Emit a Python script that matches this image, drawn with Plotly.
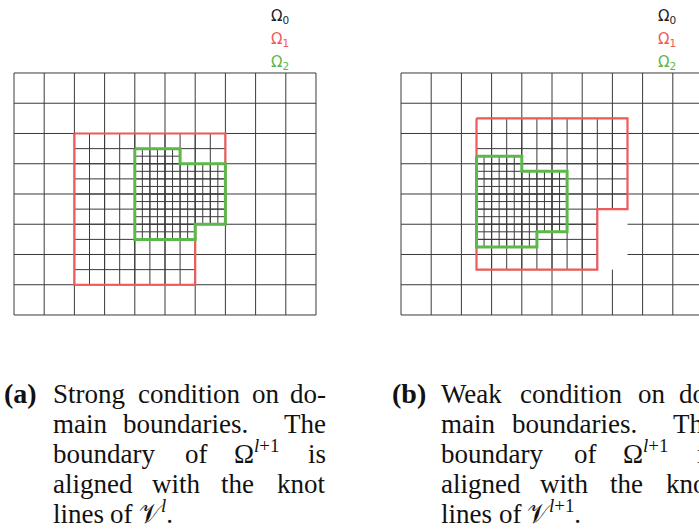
import plotly.graph_objects as go

# Coarse knot grid (cells of level 0)
NX, NY = 10, 8
LEVEL_STEP = [1.0, 0.5, 0.25]

# Panel (a): strong condition, outlines in coarse-cell units (y up)
OMEGA1_A = [(2, 6), (7, 6), (7, 3), (6, 3), (6, 1), (2, 1)]
OMEGA2_A = [(4, 5.5), (5.5, 5.5), (5.5, 5), (7, 5), (7, 3), (6, 3), (6, 2.5), (4, 2.5)]

# Panel (b): weak condition
OMEGA1_B = [(2.5, 6.5), (7.5, 6.5), (7.5, 3.5), (6.5, 3.5), (6.5, 1.5), (2.5, 1.5)]
OMEGA2_B = [(2.5, 5.25), (4, 5.25), (4, 4.75), (5.5, 4.75), (5.5, 2.75),
            (4.5, 2.75), (4.5, 2.25), (2.5, 2.25)]
# coarse knot lines left out next to the notch of Omega_1 in (b): x0, x1, y0, y1
BLANK_B = (6.5, 7.5, 1.5, 3.5)

LEGEND_LABELS = ["Ω<sub>0</sub>", "Ω<sub>1</sub>", "Ω<sub>2</sub>"]

GRID_COLOR = "#3a3a3a"
LEVEL_COLORS = ["#222222", "#f05a5a", "#5cb84a"]

W, H = 699, 529
PX_X = 30.2   # pixels per coarse cell, horizontally
PX_Y = 30.25  # pixels per coarse cell, vertically
PAD = 0.1     # axis padding in cell units so border lines are not clipped


def inside(px, py, poly):
    n = len(poly)
    res = False
    for i in range(n):
        x1, y1 = poly[i]
        x2, y2 = poly[(i + 1) % n]
        if (y1 > py) != (y2 > py):
            xc = x1 + (py - y1) * (x2 - x1) / (y2 - y1)
            if px < xc:
                res = not res
    return res


def knot_lines(step, poly=None, blank=None, sub=0.125):
    """Knot lines of spacing `step`, kept where they touch `poly`."""
    xs, ys = [], []
    eps = 1e-6

    def keep(px, py, vertical):
        if blank is not None and blank[0] < px < blank[1] and blank[2] < py < blank[3]:
            return False
        if poly is None:
            return True
        if vertical:
            return inside(px - eps, py, poly) or inside(px + eps, py, poly)
        return inside(px, py - eps, poly) or inside(px, py + eps, poly)

    for vertical in (True, False):
        n_lines = round((NX if vertical else NY) / step)
        length = NY if vertical else NX
        n_sub = round(length / sub)
        for i in range(n_lines + 1):
            c = i * step
            start = None
            for k in range(n_sub + 1):
                ok = False
                if k < n_sub:
                    mid = (k + 0.5) * sub
                    ok = keep(c, mid, True) if vertical else keep(mid, c, False)
                if ok and start is None:
                    start = k * sub
                elif not ok and start is not None:
                    end = k * sub
                    if vertical:
                        xs += [c, c, None]
                        ys += [start, end, None]
                    else:
                        xs += [start, end, None]
                        ys += [c, c, None]
                    start = None
    return xs, ys


def closed(poly):
    xs = [p[0] for p in poly] + [poly[0][0]]
    ys = [p[1] for p in poly] + [poly[0][1]]
    return xs, ys


fig = go.Figure()

panels = [
    ("x", "y", OMEGA1_A, OMEGA2_A, None),
    ("x2", "y2", OMEGA1_B, OMEGA2_B, BLANK_B),
]
for xa, ya, om1, om2, blank in panels:
    for step, poly, bl in ((LEVEL_STEP[0], None, blank),
                           (LEVEL_STEP[1], om1, None),
                           (LEVEL_STEP[2], om2, None)):
        lx, ly = knot_lines(step, poly, bl)
        fig.add_trace(go.Scatter(x=lx, y=ly, mode="lines", xaxis=xa, yaxis=ya,
                                 line=dict(color=GRID_COLOR, width=1),
                                 hoverinfo="skip", showlegend=False))
    for poly, col, wd in ((om1, LEVEL_COLORS[1], 2.2), (om2, LEVEL_COLORS[2], 3)):
        ox, oy = closed(poly)
        fig.add_trace(go.Scatter(x=ox, y=oy, mode="lines", xaxis=xa, yaxis=ya,
                                 line=dict(color=col, width=wd),
                                 hoverinfo="skip", showlegend=False))

# axis placement in pixels
left_a, left_b, top, bottom = 14, 401, 73, 315
ax_common = dict(visible=False, showgrid=False, zeroline=False, fixedrange=True)
xa_dom = [(left_a - PAD * PX_X) / W, (left_a + (NX + PAD) * PX_X) / W]
xb_dom = [(left_b - PAD * PX_X) / W, 1.0]
xb_hi = -PAD + (W - (left_b - PAD * PX_X)) / PX_X
y_dom = [1 - (bottom + PAD * PX_Y) / H, 1 - (top - PAD * PX_Y) / H]

fig.update_layout(
    width=W, height=H,
    margin=dict(l=0, r=0, t=0, b=0),
    paper_bgcolor="white", plot_bgcolor="white",
    xaxis=dict(domain=xa_dom, range=[-PAD, NX + PAD], anchor="y", **ax_common),
    yaxis=dict(domain=y_dom, range=[-PAD, NY + PAD], anchor="x", **ax_common),
    xaxis2=dict(domain=xb_dom, range=[-PAD, xb_hi], anchor="y2", **ax_common),
    yaxis2=dict(domain=y_dom, range=[-PAD, NY + PAD], anchor="x2", **ax_common),
)


def px_note(text, x, y, size, color="#111111", family="Liberation Serif",
            xanchor="left", yanchor="middle"):
    fig.add_annotation(text=text, x=x / W, y=1 - y / H, xref="paper", yref="paper",
                       xanchor=xanchor, yanchor=yanchor, showarrow=False,
                       font=dict(family=family, size=size, color=color),
                       borderpad=0, borderwidth=0)


# level labels
for lx in (271, 658):
    for j, (lab, col) in enumerate(zip(LEGEND_LABELS, LEVEL_COLORS)):
        px_note(lab, lx, 17 + 22.5 * j, 15, color=col, family="DejaVu Sans")

# captions, set word by word so the lines come out justified
CAP_A = [
    [("Strong", 53, "l"), ("condition", 138, "l"), ("on", 252, "l"), ("do-", 326, "r")],
    [("main", 53, "l"), ("boundaries.", 123, "l"), ("The", 326, "r")],
    [("boundary", 53, "l"), ("of", 185, "l"), ("Ω<sup><i>l</i>+1</sup>", 234, "l"), ("is", 326, "r")],
    [("aligned", 53, "l"), ("with", 151.5, "l"), ("the", 221, "l"), ("knot", 326, "r")],
    [("lines", 53, "l"), ("of", 110, "l"), ("𝒱<sup><i>l</i></sup>.", 138.5, "l")],
]
CAP_B = [
    [("Weak", 53, "l"), ("condition", 131.5, "l"), ("on", 249, "l"), ("do-", 326, "r")],
    [("main", 53, "l"), ("boundaries.", 123, "l"), ("The", 326, "r")],
    [("boundary", 53, "l"), ("of", 185, "l"), ("Ω<sup><i>l</i>+1</sup>", 234, "l"), ("is", 326, "r")],
    [("aligned", 53, "l"), ("with", 151.5, "l"), ("the", 221, "l"), ("knot", 326, "r")],
    [("lines", 53, "l"), ("of", 110, "l"), ("𝒱<sup><i>l</i>+1</sup>.", 138.5, "l")],
]
BASE0, LEAD, FS = 403, 30, 27
for tag, tag_x, shift, cap in (("(a)", 4, 0, CAP_A), ("(b)", 392, 388.5, CAP_B)):
    px_note("<b>" + tag + "</b>", tag_x, BASE0 + 6, 28, yanchor="bottom")
    for li, line in enumerate(cap):
        yb = BASE0 + LEAD * li + 6
        for word, wx, al in line:
            px_note(word, wx + shift, yb, FS, xanchor="left" if al == "l" else "right",
                    yanchor="bottom")

fig.write_html("out.html")
